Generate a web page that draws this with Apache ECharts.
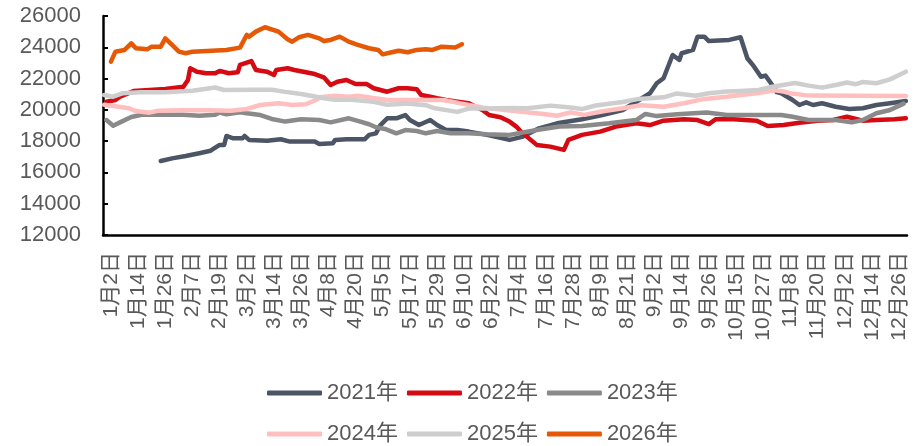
<!DOCTYPE html>
<html>
<head>
<meta charset="utf-8">
<script src="https://cdn.jsdelivr.net/npm/echarts@6/dist/echarts.min.js"></script>
<style>
    html, body { margin: 0; padding: 0; background: #fff; }
    #main { width: 917px; height: 446px; }
</style>
</head>
<body>
<div id="main"></div>
<script>
    // 日期轴：闰年日历，去掉清明、五一、国庆假期
    var leadDays = ['12月30日', '12月31日'];
    var monthDays = [31, 29, 31, 30, 31, 30, 31, 31, 30, 31, 30, 31];
    var holidays = ['4月4日', '5月1日', '5月2日', '5月3日',
        '10月1日', '10月2日', '10月3日', '10月4日', '10月5日', '10月6日', '10月7日'];
    var lastDay = '12月29日';

    var yMin = 12000, yMax = 26000, yStep = 2000;
    var years = ['2021年', '2022年', '2023年', '2024年', '2025年', '2026年'];
    var colors = ['#4b5565', '#d50a12', '#8a8a8a', '#ffbfbf', '#cecece', '#e55806'];

    var s2021 = [['1月24日',16730],['1月29日',16900],['2月4日',17050],['2月10日',17230],['2月15日',17390],['2月19日',17760],['2月21日',17760],['2月22日',18330],['2月25日',18180],['2月29日',18180],['3月1日',18330],['3月3日',18080],['3月11日',18030],['3月17日',18120],['3月21日',17970],['3月25日',17970],['4月1日',17970],['4月3日',17820],['4月10日',17870],['4月11日',18080],['4月16日',18120],['4月24日',18120],['4月26日',18400],['4月29日',18500],['5月4日',19030],['5月7日',19460],['5月11日',19460],['5月15日',19670],['5月17日',19350],['5月21日',19030],['5月26日',19350],['5月29日',19030],['6月2日',18710],['6月7日',18710],['6月12日',18610],['6月20日',18400],['6月27日',18180],['6月30日',18080],['7月6日',18290],['7月13日',18820],['7月21日',19140],['8月1日',19400],['8月10日',19670],['8月19日',19990],['8月25日',20520],['8月31日',21060],['9月3日',21700],['9月6日',22020],['9月10日',23510],['9月13日',23190],['9月14日',23620],['9月19日',23830],['9月21日',24680],['9月24日',24680],['9月26日',24400],['10月12日',24470],['10月17日',24640],['10月20日',23300],['10月23日',22760],['10月26日',22120],['10月28日',22190],['10月31日',21590],['11月2日',21130],['11月4日',21060],['11月9日',20630],['11月12日',20310],['11月15日',20480],['11月18日',20310],['11月22日',20420],['11月28日',20200],['12月4日',20060],['12月10日',20100],['12月16日',20310],['12月22日',20420],['12月29日',20560]];

    var s2022 = [['12月31日',20520],['1月4日',20630],['1月6日',20840],['1月12日',21200],['1月19日',21270],['1月26日',21330],['2月3日',21480],['2月5日',21910],['2月6日',22660],['2月9日',22440],['2月13日',22340],['2月17日',22340],['2月19日',22490],['2月23日',22340],['2月27日',22400],['2月28日',22870],['3月4日',23120],['3月6日',22550],['3月11日',22440],['3月14日',22230],['3月15日',22550],['3月20日',22660],['3月23日',22550],['3月27日',22440],['4月1日',22290],['4月6日',22080],['4月9日',21590],['4月12日',21800],['4月16日',21910],['4月20日',21650],['4月25日',21650],['4月28日',21380],['5月4日',21270],['5月7日',21160],['5月12日',21380],['5月16日',21380],['5月20日',21320],['5月22日',20950],['5月26日',20840],['5月29日',20740],['6月2日',20630],['6月7日',20520],['6月12日',20420],['6月18日',19990],['6月21日',19670],['6月26日',19530],['6月30日',19250],['7月3日',18930],['7月5日',18610],['7月12日',17760],['7月18日',17650],['7月24日',17440],['7月26日',18080],['8月1日',18400],['8月9日',18610],['8月16日',18930],['8月25日',19140],['8月31日',19030],['9月6日',19310],['9月15日',19400],['9月21日',19350],['9月26日',19090],['9月29日',19400],['10月14日',19400],['10月24日',19310],['10月29日',18970],['11月5日',19030],['11月12日',19180],['11月20日',19310],['11月27日',19350],['12月3日',19560],['12月10日',19310],['12月16日',19350],['12月24日',19400],['12月29日',19460]];

    var s2023 = [['12月31日',19350],['1月3日',18990],['1月6日',19200],['1月11日',19540],['1月16日',19700],['2月3日',19680],['2月10日',19620],['2月17日',19680],['2月19日',19830],['2月22日',19720],['2月28日',19850],['3月2日',19780],['3月8日',19670],['3月13日',19420],['3月19日',19250],['3月26日',19400],['4月3日',19350],['4月9日',19200],['4月17日',19460],['4月21日',19290],['4月26日',19080],['4月29日',18890],['5月6日',18780],['5月11日',18500],['5月15日',18710],['5月20日',18650],['5月24日',18500],['5月29日',18650],['6月4日',18500],['6月12日',18500],['6月20日',18440],['6月30日',18400],['7月12日',18710],['7月22日',18930],['8月1日',18970],['8月13日',19140],['8月25日',19350],['8月29日',19740],['9月3日',19600],['9月12日',19720],['9月25日',19830],['10月11日',19670],['10月21日',19670],['11月4日',19670],['11月9日',19560],['11月16日',19350],['11月28日',19350],['12月5日',19200],['12月10日',19350],['12月16日',19780],['12月22日',19990],['12月28日',20400]];

    var s2024 = [['12月30日',20330],['1月4日',20230],['1月10日',20100],['1月13日',19920],['1月19日',19820],['1月23日',19950],['2月3日',19980],['2月14日',19980],['2月24日',19950],['3月2日',20060],['3月8日',20310],['3月16日',20420],['3月22日',20310],['3月28日',20360],['4月1日',20600],['4月5日',20820],['4月11日',20900],['4月17日',20840],['4月21日',20900],['4月27日',20780],['5月7日',20630],['5月17日',20630],['5月24日',20630],['6月1日',20630],['6月9日',20400],['6月18日',20150],['6月30日',19950],['7月15日',19730],['7月21日',19620],['7月27日',19840],['8月2日',19680],['8月11日',19930],['8月19日',20100],['8月27日',20300],['9月6日',20200],['9月15日',20420],['9月24日',20700],['10月11日',20840],['10月17日',20950],['10月25日',21080],['11月1日',21250],['11月5日',21170],['11月8日',21060],['11月16日',20910],['12月29日',20880]];

    var s2025 = [['12月30日',20950],['1月3日',20840],['1月7日',21060],['1月15日',21130],['1月26日',21130],['2月7日',21220],['2月17日',21430],['2月21日',21270],['3月4日',21290],['3月13日',21290],['3月19日',21150],['3月26日',21010],['4月1日',20850],['4月6日',20740],['4月11日',20650],['4月18日',20650],['4月28日',20520],['5月7日',20320],['5月16日',20400],['5月24日',20300],['5月28日',20100],['6月7日',19870],['6月12日',20080],['6月20日',20080],['7月1日',20120],['7月8日',20100],['7月18日',20270],['7月27日',20150],['8月1日',20050],['8月7日',20280],['8月19日',20500],['8月26日',20700],['9月6日',20800],['9月12日',21050],['9月20日',20900],['9月26日',21060],['10月11日',21170],['10月17日',21210],['10月25日',21270],['10月31日',21480],['11月10日',21720],['11月16日',21550],['11月22日',21420],['11月28日',21590],['12月3日',21750],['12月7日',21640],['12月10日',21780],['12月16日',21700],['12月22日',21950],['12月26日',22230],['12月29日',22440]];

    var s2026 = [['1月2日',23080],['1月4日',23720],['1月8日',23830],['1月11日',24250],['1月13日',23940],['1月18日',23870],['1月20日',24040],['1月24日',24040],['1月26日',24570],['1月29日',24150],['2月1日',23720],['2月4日',23620],['2月7日',23720],['2月22日',23830],['2月28日',23980],['3月2日',24790],['3月3日',24680],['3月6日',25000],['3月10日',25280],['3月16日',25000],['3月20日',24510],['3月22日',24360],['3月25日',24640],['3月29日',24790],['4月3日',24570],['4月6日',24400],['4月9日',24470],['4月13日',24680],['4月17日',24360],['4月21日',24150],['4月26日',23940],['4月30日',23830],['5月5日',23550],['5月9日',23680],['5月12日',23780],['5月16日',23680],['5月20日',23830],['5月24日',23870],['5月27日',23830],['5月31日',24040],['6月6日',23980],['6月9日',24190]];

    var seriesData = [s2021, s2022, s2023, s2024, s2025, s2026];

    var dates = leadDays.slice();
    (function () {
        for (var m = 0; m < 12; m++) {
            for (var d = 1; d <= monthDays[m]; d++) {
                var name = (m + 1) + '月' + d + '日';
                if (holidays.indexOf(name) < 0) dates.push(name);
                if (name === lastDay) return;
            }
        }
    })();
    var firstLabel = dates.indexOf('1月2日');

    var textColor = '#595959';
    var fontFamily = '"Liberation Sans", Arial, "Noto Sans CJK SC", sans-serif';

    var series = [];
    for (var i = 0; i < years.length; i++) {
        series.push({
            name: years[i],
            type: 'line',
            data: seriesData[i],
            symbol: 'none',
            color: colors[i],
            lineStyle: { width: 4.5, color: colors[i], cap: 'round', join: 'round' }
        });
    }

    var legendBase = {
        icon: 'roundRect',
        itemWidth: 55,
        itemHeight: 5,
        itemGap: 9,
        left: 262,
        textStyle: { color: textColor, fontSize: 22, fontFamily: fontFamily }
    };

    var myChart = echarts.init(document.getElementById('main'));
    var option = {
        animation: false,
        backgroundColor: '#ffffff',
        grid: { left: 103, right: 10, top: 16, bottom: 211 },
        legend: [
            Object.assign({}, legendBase, { top: 377, data: years.slice(0, 3) }),
            Object.assign({}, legendBase, { top: 418, data: years.slice(3) })
        ],
        xAxis: {
            type: 'category',
            data: dates,
            boundaryGap: true,
            axisLine: { lineStyle: { color: '#000', width: 2.5 } },
            axisTick: {
                inside: true,
                length: 5,
                lineStyle: { color: '#000', width: 2 },
                interval: function (idx) { return idx % 14 === 0; }
            },
            axisLabel: {
                rotate: 90,
                margin: 17,
                color: textColor,
                fontSize: 21,
                fontFamily: fontFamily,
                interval: function (idx) { return idx >= firstLabel && (idx - firstLabel) % 12 === 0; }
            },
            splitLine: { show: false }
        },
        yAxis: {
            type: 'value',
            min: yMin,
            max: yMax,
            interval: yStep,
            axisLine: { show: true, lineStyle: { color: '#000', width: 2.5 } },
            axisTick: { show: true, inside: true, length: 5, lineStyle: { color: '#000', width: 2 } },
            axisLabel: {
                margin: 22,
                color: textColor,
                fontSize: 22,
                fontFamily: fontFamily,
                formatter: function (v) { return String(v); }
            },
            splitLine: { show: false }
        },
        series: series
    };
    myChart.setOption(option);
</script>
</body>
</html>
